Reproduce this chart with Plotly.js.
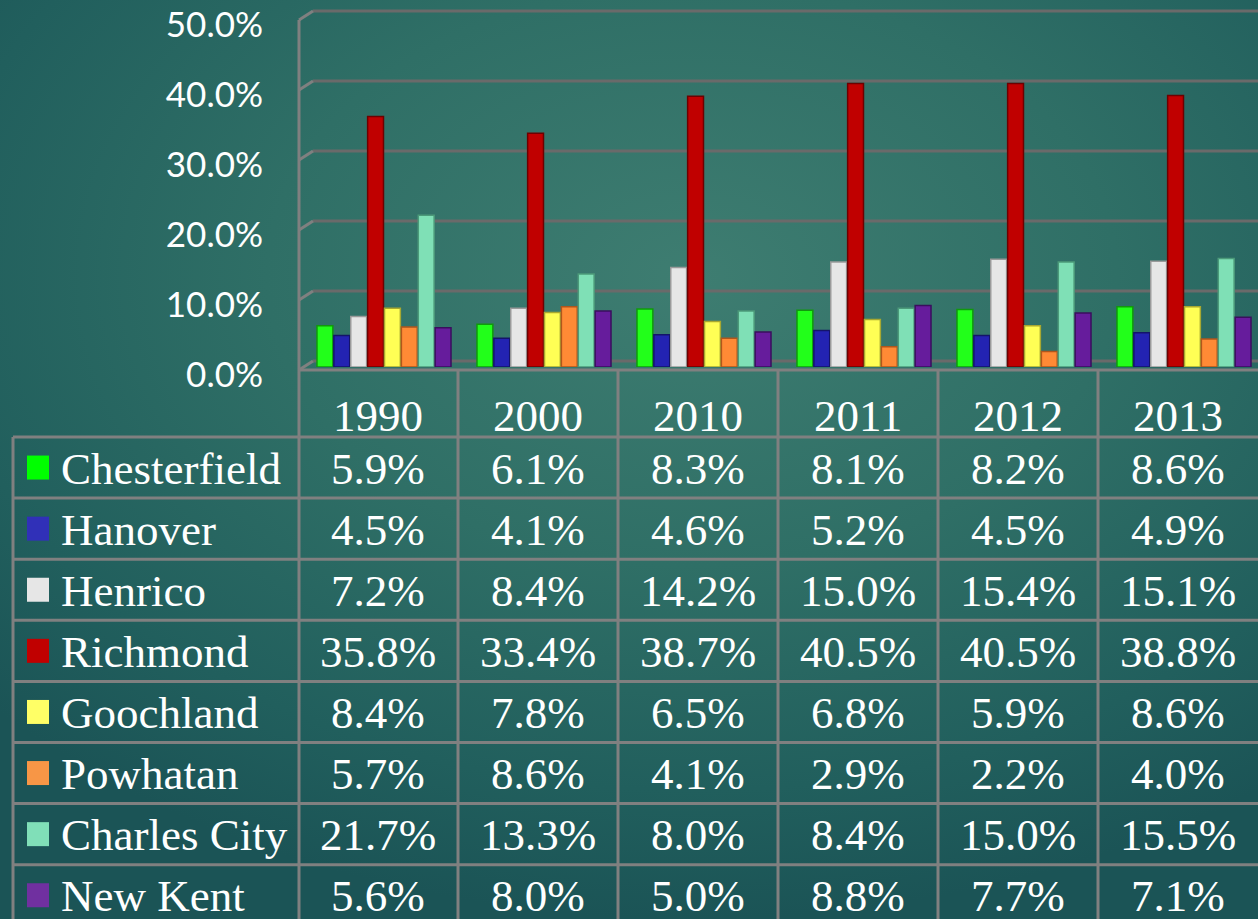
<!DOCTYPE html>
<html>
<head>
<meta charset="utf-8">
<script src="https://cdn.plot.ly/plotly-3.0.1.min.js"></script>
<style>
  html, body { margin: 0; padding: 0; overflow: hidden; }
  #chart {
    width: 1258px; height: 919px;
    background: radial-gradient(ellipse 75% 70% at 55% 30%, #3e7d71 0%, #2f6f66 45%, #215f5d 80%, #1b5456 100%);
  }
</style>
</head>
<body>
<div id="chart"></div>
<script>
// ---------- DATA ----------
const years = ['1990', '2000', '2010', '2011', '2012', '2013'];
const counties = ['Chesterfield', 'Hanover', 'Henrico', 'Richmond', 'Goochland', 'Powhatan', 'Charles City', 'New Kent'];
const chesterfield = [5.9, 6.1, 8.3, 8.1, 8.2, 8.6];
const hanover      = [4.5, 4.1, 4.6, 5.2, 4.5, 4.9];
const henrico      = [7.2, 8.4, 14.2, 15.0, 15.4, 15.1];
const richmond     = [35.8, 33.4, 38.7, 40.5, 40.5, 38.8];
const goochland    = [8.4, 7.8, 6.5, 6.8, 5.9, 8.6];
const powhatan     = [5.7, 8.6, 4.1, 2.9, 2.2, 4.0];
const charlesCity  = [21.7, 13.3, 8.0, 8.4, 15.0, 15.5];
const newKent      = [5.6, 8.0, 5.0, 8.8, 7.7, 7.1];
const yTicks = [0, 10, 20, 30, 40, 50];
const yTickText = ['0.0%', '10.0%', '20.0%', '30.0%', '40.0%', '50.0%'];

// ---------- STYLE ----------
const series = [chesterfield, hanover, henrico, richmond, goochland, powhatan, charlesCity, newKent];
const barColors = ['#22ff1a', '#2323b2', '#e6e6e6', '#c00000', '#ffff55', '#ff8a35', '#7fe0b6', '#661c9c'];
const barEdges  = ['#109a0c', '#14146a', '#9a9a9a', '#6e0000', '#a8a830', '#b0561c', '#4c9a7a', '#3a0e5e'];
const keyColors = ['#00ff00', '#3030b8', '#e6e6e6', '#c00000', '#ffff66', '#f79646', '#80dfb8', '#7030a0'];

const W = 1258, H = 919;
const px = x => x / W;
const py = y => 1 - y / H;

const tableLeft = 13, labelRight = 298, colW = 160;
const tableTop = 370, headerBottom = 437, rowH = 61.1;
const lineCol = '#808080', lineW = 3;
const textFont = { family: 'Liberation Serif, Times New Roman, serif', size: 45, color: '#ffffff' };

// ---------- TRACES ----------
const traces = [];
traces.push({ type: 'scatter', x: [], y: [], xaxis: 'x', yaxis: 'y', showlegend: false, hoverinfo: 'skip' });
series.forEach((vals, i) => {
  traces.push({
    type: 'bar', name: counties[i], x: years, y: vals,
    xaxis: 'x2', yaxis: 'y2',
    marker: { color: barColors[i], line: { color: barEdges[i], width: 1.5 } },
    hoverinfo: 'skip', showlegend: false
  });
});
traces.push({ type: 'scatter', x: [], y: [], xaxis: 'x3', yaxis: 'y2', showlegend: false, hoverinfo: 'skip' });

// ---------- SHAPES ----------
const shapes = [];
// back wall gridlines, on the back-wall value axis
yTicks.forEach(v => {
  shapes.push({ type: 'line', xref: 'paper', yref: 'y', x0: px(313), x1: 1, y0: v, y1: v,
    line: { color: '#6a6a6a', width: 3 }, layer: 'below' });
});
function line(x0, y0, x1, y1) {
  shapes.push({ type: 'line', xref: 'paper', yref: 'paper', x0: px(x0), y0: py(y0), x1: px(x1), y1: py(y1),
    line: { color: lineCol, width: lineW }, layer: 'above' });
}
// 3D left wall edge and diagonals
line(299, 20, 299, H);
yTicks.forEach(v => line(299, 370 - 7 * v, 313, 361 - 7 * v));
line(labelRight, tableTop, W, tableTop);
for (let k = 0; k <= counties.length; k++) {
  const y = headerBottom + k * rowH;
  if (y < H) line(tableLeft, y, W, y);
}
line(tableLeft, headerBottom, tableLeft, H);
for (let j = 1; j < years.length; j++) line(labelRight + j * colW, tableTop, labelRight + j * colW, H);
counties.forEach((c, i) => {
  const cy = headerBottom + (i + 0.5) * rowH;
  shapes.push({ type: 'rect', xref: 'paper', yref: 'paper', x0: px(27), x1: px(49), y0: py(cy - 12), y1: py(cy + 12),
    fillcolor: keyColors[i], line: { width: 0 }, layer: 'above' });
});

// ---------- ANNOTATIONS ----------
const annotations = [];
years.forEach((yr, j) => {
  annotations.push({ xref: 'x3', yref: 'paper', x: j, y: py(416), text: yr, showarrow: false,
    xanchor: 'center', yanchor: 'middle', font: textFont, borderpad: 0 });
});
counties.forEach((c, i) => {
  const cy = headerBottom + (i + 0.5) * rowH + 1;
  annotations.push({ xref: 'paper', yref: 'paper', x: px(60), y: py(cy), text: c, showarrow: false,
    xanchor: 'left', yanchor: 'middle', font: textFont, borderpad: 0 });
  series[i].forEach((v, j) => {
    annotations.push({ xref: 'x3', yref: 'paper', x: j, y: py(cy), text: v.toFixed(1) + '%', showarrow: false,
      xanchor: 'center', yanchor: 'middle', font: textFont, borderpad: 0 });
  });
});

// ---------- LAYOUT ----------
const noAxis = { showgrid: false, showline: false, zeroline: false, showticklabels: false, ticks: '', fixedrange: true };
const shift = 6 / colW;
const layout = {
  width: W, height: H,
  margin: { l: 0, r: 0, t: 0, b: 0, pad: 0 },
  paper_bgcolor: 'rgba(0,0,0,0)', plot_bgcolor: 'rgba(0,0,0,0)',
  showlegend: false,
  barmode: 'group', bargap: 0.156, bargroupgap: 0.06,
  xaxis: Object.assign({}, noAxis, { domain: [px(313), 1], range: [0, 1], anchor: 'y' }),
  yaxis: Object.assign({}, noAxis, { domain: [py(364.5), py(7.5)], range: [-0.5, 50.5], anchor: 'x' }),
  xaxis2: Object.assign({}, noAxis, { domain: [px(298), 1], type: 'category', range: [-0.5 - shift, years.length - 0.5 - shift], anchor: 'y2' }),
  yaxis2: Object.assign({}, noAxis, { domain: [py(367), py(17)], range: [0, 50.01], anchor: 'x2',
    showticklabels: true, tickvals: yTicks, ticktext: yTickText, ticklabelshift: 8, ticklabelstandoff: 34,
    ticklabeloverflow: 'allow',
    tickfont: { family: 'Lato, Open Sans, sans-serif', size: 35, color: '#ffffff' } }),
  xaxis3: Object.assign({}, noAxis, { domain: [px(298), 1], type: 'category', range: [-0.5, years.length - 0.5],
    overlaying: 'x2', anchor: 'y2' }),
  shapes: shapes,
  annotations: annotations
};

Plotly.newPlot('chart', traces, layout, { staticPlot: true, displayModeBar: false });
</script>
</body>
</html>
